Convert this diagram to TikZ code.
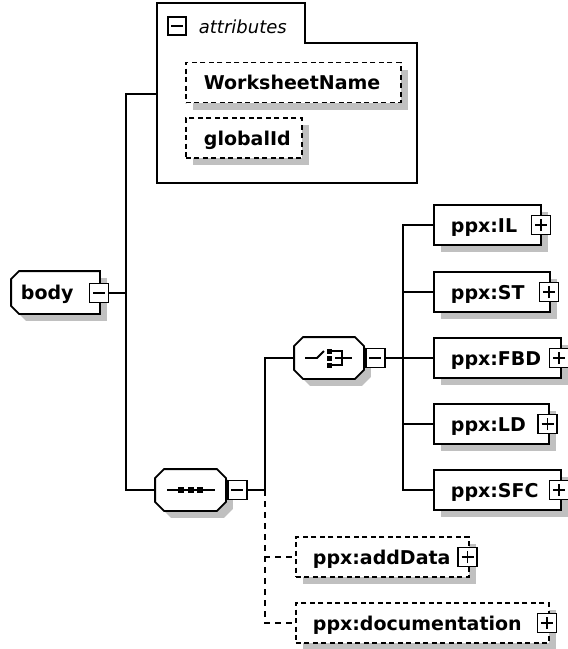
\documentclass[tikz,border=0pt]{standalone}
\usepackage{fontspec}
\setmainfont{DejaVu Sans}
\usetikzlibrary{shadows,calc}
\definecolor{shad}{HTML}{C0C0C0}
\newcommand\myoct[2]{([xshift=#2]#1.north west) -- ([xshift=-#2]#1.north east) -- ([yshift=-#2]#1.north east) -- ([yshift=#2]#1.south east) -- ([xshift=-#2]#1.south east) -- ([xshift=#2]#1.south west) -- ([yshift=#2]#1.south west) -- ([yshift=-#2]#1.north west) -- cycle}
\newcommand\myleftcham[2]{([xshift=#2]#1.north west) -- (#1.north east) -- (#1.south east) -- ([xshift=#2]#1.south west) -- ([yshift=#2]#1.south west) -- ([yshift=-#2]#1.north west) -- cycle}
\begin{document}
\begin{tikzpicture}[x=1pt,y=-1pt,line width=1.8pt,
  lbl/.style={font=\bfseries\fontsize{19}{22}\selectfont, inner sep=0pt, anchor=base west},
  shadowed/.style={drop shadow={shadow xshift=7pt,shadow yshift=-7pt,fill=shad,opacity=1}},
  elem/.style={draw, fill=white, inner sep=0pt, minimum height=40pt, anchor=west, shadowed},
  opt/.style={elem, dash pattern=on 5pt off 3.5pt},
  hold/.style={inner sep=0pt, minimum height=40pt},
  pm/.style={draw, fill=white, inner sep=0pt, minimum size=19pt},
  minus/.style={pm, path picture={\draw[line width=1.6pt] ([xshift=-6pt]path picture bounding box.center) -- ([xshift=6pt]path picture bounding box.center);}},
  plus/.style={pm, path picture={\draw[line width=1.6pt] ([xshift=-6pt]path picture bounding box.center) -- ([xshift=6pt]path picture bounding box.center) ([yshift=-6pt]path picture bounding box.center) -- ([yshift=6pt]path picture bounding box.center);}},
  conn/.style={draw, line width=1.8pt},
  dconn/.style={conn, dash pattern=on 6pt off 5pt},
  shadowpath/.style={fill=shad, transform canvas={xshift=7pt,yshift=-7pt}}
]
\useasboundingbox (0,0) rectangle (568,649);

% ---------- attributes container ----------
\node[inner sep=0pt, minimum width=258pt, minimum height=138pt, anchor=north west] (attrbox) at (157,43) {};
\node[inner sep=0pt, minimum width=146pt, minimum height=38pt, anchor=south west] (attrtab) at (157,43) {};
\draw[line join=miter] (attrbox.south west) -- (attrtab.north west) -- (attrtab.north east) -- (attrtab.south east) -- (attrbox.north east) -- (attrbox.south east) -- cycle;
\node[minus, minimum size=18pt] (attrm) at (177,26) {};
\node[font=\itshape\fontsize{18}{21}\selectfont, inner sep=0pt, anchor=base west] (attrt) at (198,33) {attributes};

\node[opt, minimum width=215pt] (ws) at (185,82.5) {};
\node[lbl] (wst) at (203,89.5) {WorksheetName};
\node[opt, minimum width=116pt] (gid) at (185,138) {};
\node[lbl] (gidt) at (203,145) {globalId};

% ---------- body ----------
\node[hold, minimum width=87pt, minimum height=41pt] (body) at (55.5,292.5) {};
\path[shadowpath] \myleftcham{body}{8pt};
\draw[fill=white] \myleftcham{body}{8pt};
\node[lbl] (bodyt) at (20,299.5) {body};
\node[minus] (bodym) at (99,293) {};

% ---------- sequence ----------
\node[hold, minimum width=69pt] (seq) at (190.5,490) {};
\path[shadowpath] \myoct{seq}{9pt};
\draw[fill=white] \myoct{seq}{9pt};
\draw ([xshift=-23.5pt]seq.center) -- ([xshift=24.5pt]seq.center);
\foreach \dx in {-9.5,0,9.5}
  \fill ([shift={(\dx-3,-3)}]seq.center) rectangle +(6,6);
\node[minus, anchor=west] (seqm) at ([xshift=0.9pt]seq.east) {};

% ---------- choice ----------
\node[hold, minimum width=68pt] (cho) at (329,358) {};
\path[shadowpath] \myoct{cho}{9pt};
\draw[fill=white] \myoct{cho}{9pt};
\draw ([xshift=-24pt]cho.center) -- ([xshift=-12pt]cho.center) -- ([shift={(-5,-7)}]cho.center);
\foreach \dy in {-7,0,7}
  \fill ([shift={(-2,\dy-2.5)}]cho.center) rectangle +(5,5);
\draw ([shift={(3,-7)}]cho.center) -- ([shift={(13,-7)}]cho.center) -- ([shift={(13,7)}]cho.center) -- ([shift={(3,7)}]cho.center);
\draw ([shift={(6,0)}]cho.center) -- ([shift={(23,0)}]cho.center);
\node[minus, anchor=west] (chom) at ([xshift=0.9pt]cho.east) {};

% ---------- choice children ----------
\node[elem, minimum width=107pt] (il) at (433,225) {};
\node[lbl] (ilt) at (450,232) {ppx:IL};
\node[plus] (ilp) at (541,225) {};

\node[elem, minimum width=116pt] (st) at (433,292) {};
\node[lbl] (stt) at (450,299) {ppx:ST};
\node[plus] (stp) at (549,292) {};

\node[elem, minimum width=127pt] (fbd) at (433,358) {};
\node[lbl] (fbdt) at (450,365) {ppx:FBD};
\node[plus] (fbdp) at (559,358) {};

\node[elem, minimum width=115pt] (ld) at (433,424) {};
\node[lbl] (ldt) at (450,431) {ppx:LD};
\node[plus] (ldp) at (547.5,424) {};

\node[elem, minimum width=127pt] (sfc) at (433,490) {};
\node[lbl] (sfct) at (450,497) {ppx:SFC};
\node[plus] (sfcp) at (559,490) {};

% ---------- optional children ----------
\node[opt, minimum width=173pt] (add) at (295,557) {};
\node[lbl] (addt) at (312,564) {ppx:addData};
\node[plus] (addp) at (467.5,557) {};

\node[opt, minimum width=253pt] (doc) at (295,623) {};
\node[lbl] (doct) at (312,630) {ppx:documentation};
\node[plus] (docp) at (547,623) {};

% ---------- connectors ----------
\coordinate (busA) at (126,490);
\coordinate (busB) at (265,490);
\coordinate (busC) at (403,358);
\draw[conn] ([yshift=19pt]attrbox.west) -| (busA) -- (seq.west);
\draw[conn] (bodym.east) -- (bodym.east -| busA);
\draw[conn] (seqm.east) -- (busB) |- (cho.west);
\draw[dconn] (busB) |- (add.west);
\draw[dconn] (busB) |- (doc.west);
\draw[conn] (chom.east) -- (busC);
\draw[conn] (il.west) -| (busC |- sfc.west) -- (sfc.west);
\draw[conn] (busC |- st.west) -- (st.west);
\draw[conn] (busC) -- (fbd.west);
\draw[conn] (busC |- ld.west) -- (ld.west);
\end{tikzpicture}
\end{document}
